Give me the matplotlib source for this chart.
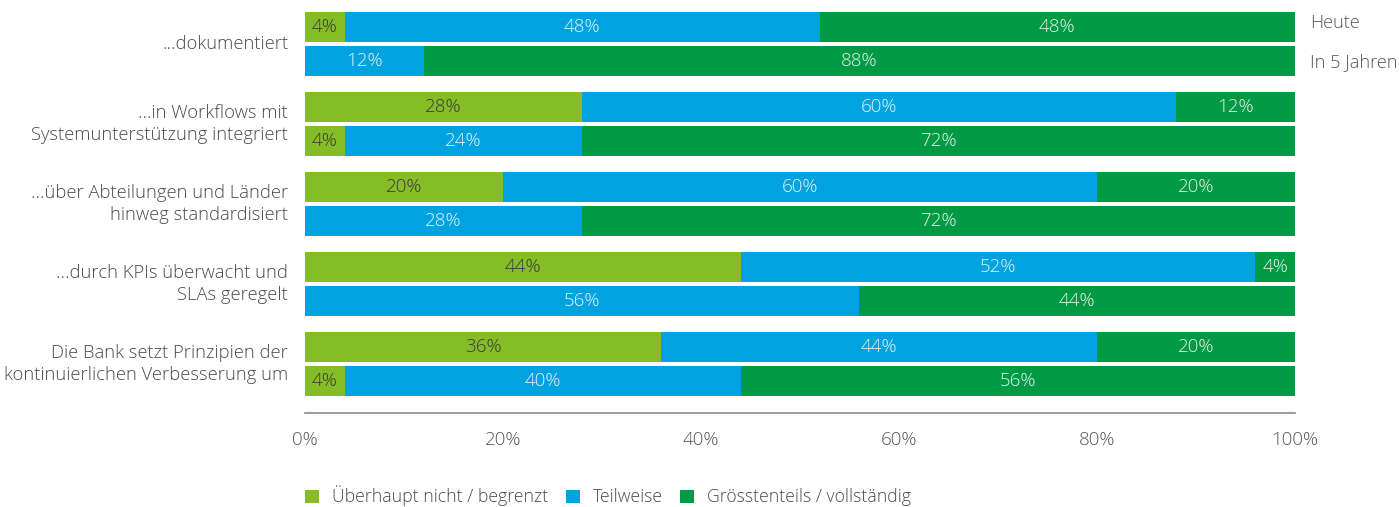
import matplotlib
matplotlib.use("Agg")
import matplotlib.pyplot as plt
from matplotlib.patches import Patch

categories = [
    "...dokumentiert",
    "...in Workflows mit\nSystemunterstützung integriert",
    "...über Abteilungen und Länder\nhinweg standardisiert",
    "...durch KPIs überwacht und\nSLAs geregelt",
    "Die Bank setzt Prinzipien der\nkontinuierlichen Verbesserung um",
]
periods = ["Heute", "In 5 Jahren"]
series_names = ["Überhaupt nicht / begrenzt", "Teilweise", "Grösstenteils / vollständig"]
# values per category: [heute, in 5 jahren]
low = [[4, 0], [28, 4], [20, 0], [44, 0], [36, 4]]
mid = [[48, 12], [60, 24], [60, 28], [52, 56], [44, 40]]
high = [[48, 88], [12, 72], [20, 72], [4, 44], [20, 56]]
xticks = [0, 20, 40, 60, 80, 100]

colors = ["#86BC25", "#00A3E0", "#009A44"]
label_colors = ["#3a3a3a", "#e6f4fb", "#e8f5ec"]

plt.rcParams['font.family'] = ['Open Sans', 'DejaVu Sans']
FW = 'light'
FS = 13.5
W, H = 1399, 507
fig = plt.figure(figsize=(W / 100, H / 100), dpi=100)
ax = fig.add_axes([305 / W, 1 - 413 / H, 990 / W, 413 / H])
ax.set_xlim(0, 100)
ax.set_ylim(413, 0)

bar_h = 30
for g in range(len(categories)):
    for k in range(2):
        yc = 27 + g * 80 + k * 34
        left = 0
        for s, vals in enumerate([low, mid, high]):
            v = vals[g][k]
            if v > 0:
                ax.barh(yc, v, left=left, height=bar_h, color=colors[s], linewidth=0)
                ax.text(left + v / 2, yc, f"{v}%", ha="center", va="center",
                        fontsize=FS, color=label_colors[s], fontweight=FW)
            left += v
    ax.text(-1.7, 27 + g * 80 + 17, categories[g], ha="right", va="center",
            fontsize=13.2, color="#4a4a4a", linespacing=1.32, fontweight=FW)

for k, p in enumerate(periods):
    ax.text(101.5, 23 + k * 39, p, ha="left", va="center", fontsize=13.1,
            color="#555555", fontweight=FW)

for sp in ["top", "right", "left"]:
    ax.spines[sp].set_visible(False)
ax.spines["bottom"].set_color("#8a8a8a")
ax.spines["bottom"].set_linewidth(1.2)
ax.set_yticks([])
ax.set_xticks(xticks)
ax.set_xticklabels([f"{t}%" for t in xticks], fontsize=FS, color="#555555", fontweight=FW)
ax.tick_params(axis="x", length=0, pad=13)

handles = [Patch(facecolor=c, edgecolor="none") for c in colors]
leg = fig.legend(handles, series_names, loc="center left",
                 bbox_to_anchor=(305 / W, 1 - 496 / H), ncol=3, frameon=False,
                 borderpad=0, borderaxespad=0,
                 handlelength=0.8, handleheight=0.8, handletextpad=0.72,
                 columnspacing=1.0, prop={"size": 12.7, "weight": FW})
for t in leg.get_texts():
    t.set_color("#4a4a4a")

fig.savefig("out.png", dpi=100)
